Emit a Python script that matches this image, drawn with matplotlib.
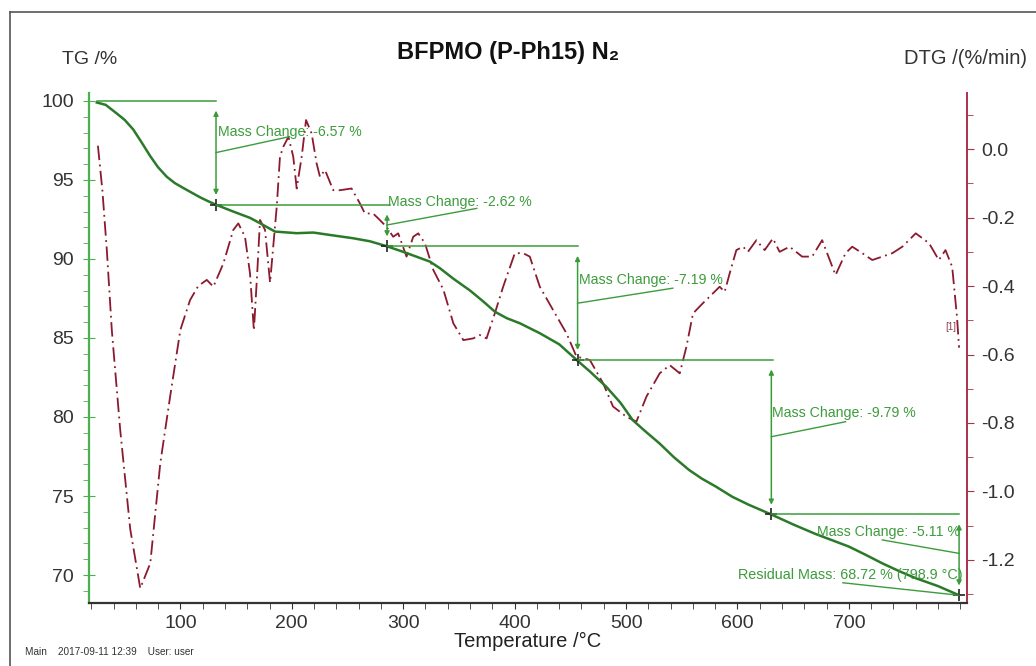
import matplotlib
matplotlib.use("Agg")
import matplotlib.pyplot as plt
from matplotlib.lines import Line2D
from matplotlib.ticker import MultipleLocator, FixedLocator, FormatStrFormatter

plt.rcParams['font.family'] = ['Liberation Sans', 'DejaVu Sans']

# TG curve, temperature /°C and mass /%
tg_temp = [25, 33, 43, 50, 57.6, 65, 73, 80, 87.8, 95, 102.4, 110, 117.7, 125, 132,
           147.4, 162.5, 171.5, 185, 195, 204.4, 219.3, 234, 255, 270, 285, 300, 324,
           333, 345, 360, 372, 382.3, 393, 404.7, 422.6, 440, 455.5, 468, 482.4, 495,
           506, 518, 530, 543, 556.5, 568, 580.5, 595.4, 610, 630.4, 650, 670, 685,
           700, 715, 730, 745, 760, 780, 798.9]
tg_mass = [99.9, 99.75, 99.2, 98.8, 98.2, 97.4, 96.5, 95.8, 95.2, 94.8, 94.5, 94.2, 93.9,
           93.65, 93.43, 93.0, 92.6, 92.26, 91.73, 91.68, 91.63, 91.67, 91.52, 91.31, 91.12,
           90.81, 90.45, 89.83, 89.41, 88.75, 88.0, 87.3, 86.66, 86.25, 85.93, 85.3, 84.6,
           83.62, 82.85, 81.9, 80.9, 79.8, 79.05, 78.33, 77.45, 76.65, 76.1, 75.6, 74.95,
           74.45, 73.83, 73.2, 72.6, 72.2, 71.8, 71.28, 70.74, 70.25, 69.8, 69.3, 68.72]

# DTG curve, %/min
dtg_temp = [26, 30, 34, 38.5, 46, 55, 64, 73, 82, 90.8, 100, 108.7, 116, 123.7, 129.6,
            138.6, 147.5, 152, 158, 162.5, 166, 169, 171.5, 176, 180.5, 186.5, 189.4, 192.4,
            197, 201.3, 204.4, 208.9, 212.8, 217.8, 222.3, 225.3, 229.8, 237.2, 243.2, 253.7,
            261.2, 265.6, 273, 279, 285, 291, 295.5, 303, 309, 313.5, 319.5, 327, 336, 345,
            354, 362.8, 368.8, 374.8, 382.2, 389.7, 400.2, 407.6, 413.6, 422.6, 434.5, 446.5,
            455.5, 467.5, 479.4, 488.3, 500.4, 509.3, 518.3, 530.2, 539.2, 548.2, 554.2,
            560.1, 569, 575, 584, 588.5, 593, 599, 605, 609.4, 617, 624.4, 631.8, 637.8,
            646.8, 658, 667, 676, 688, 697, 703, 712, 721, 730, 739, 748, 760, 772, 780.7,
            786.7, 792.7, 797, 798.9]
dtg_rate = [0.01, -0.12, -0.295, -0.53, -0.82, -1.11, -1.283, -1.21, -0.917, -0.723,
            -0.528, -0.441, -0.40, -0.382, -0.402, -0.334, -0.236, -0.217, -0.256, -0.363,
            -0.53, -0.36, -0.207, -0.236, -0.39, -0.168, -0.022, 0.007, 0.036, -0.022,
            -0.115, -0.022, 0.085, 0.046, -0.042, -0.081, -0.061, -0.12, -0.12, -0.115,
            -0.159, -0.188, -0.188, -0.207, -0.227, -0.256, -0.246, -0.314, -0.256, -0.246,
            -0.275, -0.353, -0.41, -0.509, -0.558, -0.553, -0.543, -0.553, -0.48, -0.402,
            -0.304, -0.304, -0.314, -0.402, -0.47, -0.538, -0.606, -0.616, -0.684, -0.752,
            -0.782, -0.796, -0.723, -0.655, -0.631, -0.655, -0.577, -0.48, -0.45, -0.431,
            -0.402, -0.417, -0.363, -0.295, -0.285, -0.30, -0.266, -0.295, -0.261, -0.30,
            -0.285, -0.314, -0.314, -0.266, -0.368, -0.304, -0.285, -0.304, -0.324, -0.314,
            -0.304, -0.285, -0.246, -0.275, -0.324, -0.295, -0.344, -0.49, -0.58]

# evaluation steps: temperatures bounding each step and mass levels
step_temp = [25, 132, 285.5, 456.5, 630.4, 798.9]
step_mass = [100.0, 93.43, 90.81, 83.62, 73.83, 68.72]
step_end = [132, 288, 457, 632, 799]
step_text = ['Mass Change: -6.57 %', 'Mass Change: -2.62 %', 'Mass Change: -7.19 %',
             'Mass Change: -9.79 %', 'Mass Change: -5.11 %']
residual_text = 'Residual Mass: 68.72 % (798.9 °C)'

tg_col = '#2a7a2a'
dtg_col = '#8b1a2e'
ev_col = '#3c9c3c'

fig = plt.figure(figsize=(10.36, 6.66), dpi=100)
ax = fig.add_axes([89 / 1036, 1 - 603 / 666, 878 / 1036, 510 / 666])
ax2 = ax.twinx()
ax.set_zorder(ax2.get_zorder() + 1)
ax.patch.set_visible(False)

ax2.plot(dtg_temp, dtg_rate, color=dtg_col, lw=1.3, dashes=(8, 2.5, 1, 2.5))
ax.plot(tg_temp, tg_mass, color=tg_col, lw=1.8)

# step evaluation: level lines, arrows, leaders, labels
lead_x = [198, 366, 542, 697, 730]
lead_y = [97.74, 93.2, 88.15, 79.7, 72.22]
foot_y = [96.73, 92.15, 87.2, 78.75, 71.37]
text_xy = [(134, 98.06), (286.5, 93.62), (457.5, 88.67), (631, 80.27), (800, 72.74)]
for i in range(5):
    x0, x1 = step_temp[i], step_temp[i + 1]
    ax.plot([x0, step_end[i]], [step_mass[i], step_mass[i]], color=ev_col, lw=1.1)
    ax.annotate('', xy=(x1, step_mass[i + 1]), xytext=(x1, step_mass[i]),
                arrowprops=dict(arrowstyle='<|-|>', color=ev_col, lw=1.1,
                                mutation_scale=7, shrinkA=7, shrinkB=7))
    ax.plot([x1, lead_x[i]], [foot_y[i], lead_y[i]], color=ev_col, lw=1.0)
    ha = 'right' if i == 4 else 'left'
    ax.text(text_xy[i][0], text_xy[i][1], step_text[i], color=ev_col, fontsize=10.2,
            ha=ha, va='center')
    ax.plot(x1, step_mass[i + 1], marker='+', color='#222222', ms=9, mew=1.2)

ax.plot([798.9, 694.6], [68.72, 69.51], color=ev_col, lw=1.0)
ax.text(802, 70.0, residual_text, color=ev_col, fontsize=10.4, ha='right', va='center')
ax2.text(791, -0.52, '[1]', color='#8b4050', fontsize=7, ha='center', va='center')

# axes limits and ticks
ax.set_xlim(18, 806)
ax.set_ylim(68.23, 100.5)
ax2.set_ylim(-1.326, 0.164)

ax.xaxis.set_major_locator(FixedLocator([100, 200, 300, 400, 500, 600, 700]))
ax.xaxis.set_minor_locator(MultipleLocator(20))
ax.yaxis.set_major_locator(MultipleLocator(5))
ax.yaxis.set_minor_locator(MultipleLocator(1))
ax2.yaxis.set_major_locator(MultipleLocator(0.2))
ax2.yaxis.set_minor_locator(MultipleLocator(0.1))
ax2.yaxis.set_major_formatter(FormatStrFormatter('%.1f'))

for s in ['top', 'right']:
    ax.spines[s].set_visible(False)
for s in ['top', 'left', 'bottom']:
    ax2.spines[s].set_visible(False)
ax.spines['left'].set_color('#4caf50')
ax.spines['left'].set_linewidth(1.6)
ax.spines['bottom'].set_color('#333333')
ax.spines['bottom'].set_linewidth(1.6)
ax2.spines['right'].set_color('#a8324a')
ax2.spines['right'].set_linewidth(1.4)

ax.tick_params(axis='x', which='both', direction='out', length=4, color='#333333',
               labelsize=14, labelcolor='#333333', pad=5)
ax.tick_params(axis='y', which='major', direction='inout', length=8, color='#4caf50',
               labelsize=14, labelcolor='#333333', pad=7)
ax.tick_params(axis='y', which='minor', direction='out', length=4, color='#4caf50')
ax2.tick_params(axis='y', which='major', direction='out', length=5, color='#a8324a',
                labelsize=14, labelcolor='#333333', pad=5)
ax2.tick_params(axis='y', which='minor', direction='out', length=4, color='#a8324a')

fig.text(528 / 1036, 1 - 641 / 666, 'Temperature /°C', fontsize=14.5, color='#222222',
         ha='center', va='center')
fig.text(90 / 1036, 1 - 59 / 666, 'TG /%', fontsize=14, color='#333333',
         ha='center', va='center')
fig.text(966 / 1036, 1 - 58 / 666, 'DTG /(%/min)', fontsize=14.5, color='#333333',
         ha='center', va='center')
fig.text(508 / 1036, 1 - 52 / 666, 'BFPMO (P-Ph15) N₂', fontsize=17, fontweight='bold',
         color='#111111', ha='center', va='center')
fig.text(25 / 1036, 1 - 652 / 666, 'Main    2017-09-11 12:39    User: user', fontsize=7.2,
         color='#333333', ha='left', va='center')

# page frame
fig.add_artist(Line2D([10 / 1036, 1], [1 - 12 / 666] * 2, transform=fig.transFigure,
                      color='#555555', lw=1.2))
fig.add_artist(Line2D([10 / 1036] * 2, [0, 1 - 12 / 666], transform=fig.transFigure,
                      color='#555555', lw=1.2))

fig.savefig('out.png', dpi=100)
